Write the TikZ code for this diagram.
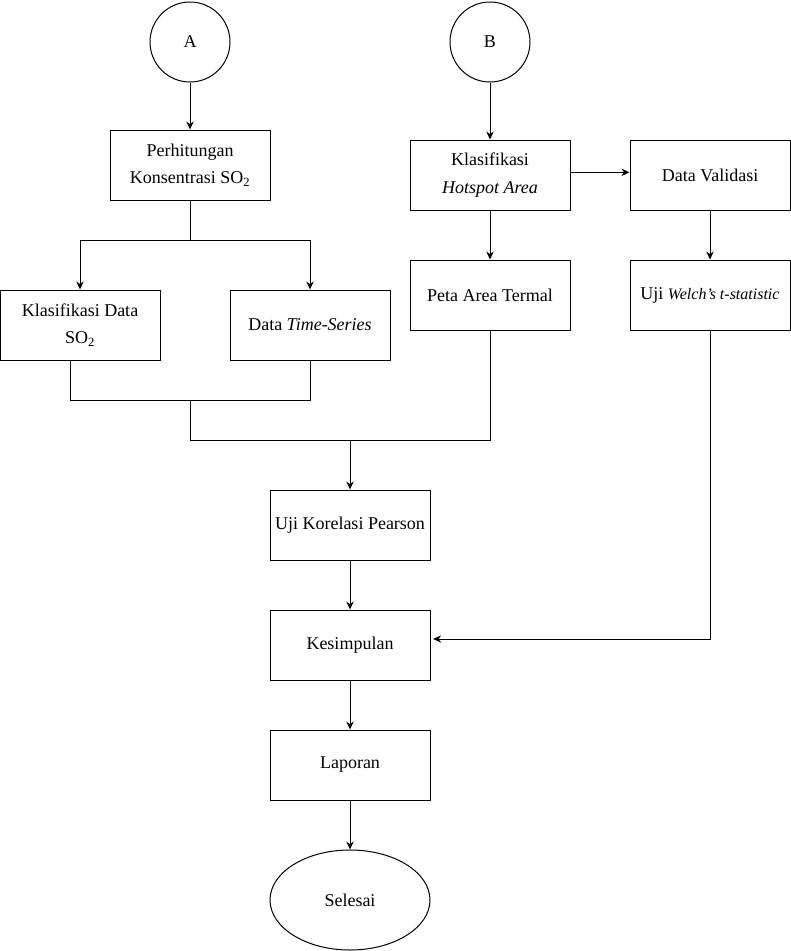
\documentclass[tikz,border=0pt]{standalone}
\usepackage{fontspec}
\setmainfont{Liberation Serif}
\usetikzlibrary{shapes.geometric,arrows.meta}
\begin{document}
\begin{tikzpicture}[x=0.75pt,y=-0.75pt,line width=0.75pt,
    process/.style={
      % The shape:
      rectangle,minimum width=120pt,minimum height=52.5pt,
      % The rest
      draw=black,align=center,
      font=\fontsize{13.5}{20.5}\selectfont},
    connector/.style={
      circle,minimum size=60pt,draw=black,
      font=\fontsize{13.5}{20.5}\selectfont},
    endpoint/.style={
      ellipse,minimum width=120pt,minimum height=75pt,draw=black,
      font=\fontsize{13.5}{20.5}\selectfont},
    flow/.style={-{Stealth[length=6pt,width=5.5pt]}}]
    \useasboundingbox (0,0) rectangle (791,951);
    \node (A)  [connector] at (190,42) {A};
    \node (B)  [connector] at (490,42) {B};
    \node (perhit)  [process] at (190,165) {Perhitungan\\Konsentrasi SO\textsubscript{2}};
    \node (klasdata)  [process] at (80,325) {Klasifikasi Data\\SO\textsubscript{2}};
    \node (timeser)  [process] at (310,325) {Data \textit{Time-Series}};
    \node (hotspot)  [process] at (490,175) {Klasifikasi\\\textit{Hotspot Area}};
    \node (validasi)  [process] at (710,175) {Data Validasi};
    \node (peta)  [process] at (490,295) {Peta Area Termal};
    \node (welch)  [process] at (710,295) {Uji {\fontsize{12}{20}\selectfont\textit{Welch's t-statistic}}};
    \node (pearson)  [process] at (350,525) {Uji Korelasi Pearson};
    \node (kesimp)  [process] at (350,645) {Kesimpulan};
    \node (laporan)  [process] at (350,765) {Laporan};
    \node (selesai)  [endpoint] at (350,900) {Selesai};
    \coordinate (split) at (190,240);
    \coordinate (joinA) at (190,400);
    \coordinate (joinB) at (350,440);
    \draw[flow]  (A) -- (perhit);
    \draw[flow]  (B) -- (hotspot);
    \draw  (perhit) -- (split);
    \draw[flow]  (split) -| (klasdata);
    \draw[flow]  (split) -| (timeser);
    \draw  ([xshift=-7.5pt]klasdata.south) |- (timeser.south |- joinA) -- (timeser.south);
    \draw  (joinA) |- (peta.south |- joinB) -- (peta.south);
    \draw[flow]  (joinB) -- (pearson);
    \draw[flow]  ([yshift=2pt]hotspot.east) -- ([yshift=2pt]validasi.west);
    \draw[flow]  (hotspot) -- (peta);
    \draw[flow]  (validasi) -- (welch);
    \draw[flow]  (welch.south) |- ([xshift=2pt,yshift=4.5pt]kesimp.east);
    \draw[flow]  (pearson) -- (kesimp);
    \draw[flow]  (kesimp) -- (laporan);
    \draw[flow]  (laporan) -- (selesai);
  \end{tikzpicture}
\end{document}
